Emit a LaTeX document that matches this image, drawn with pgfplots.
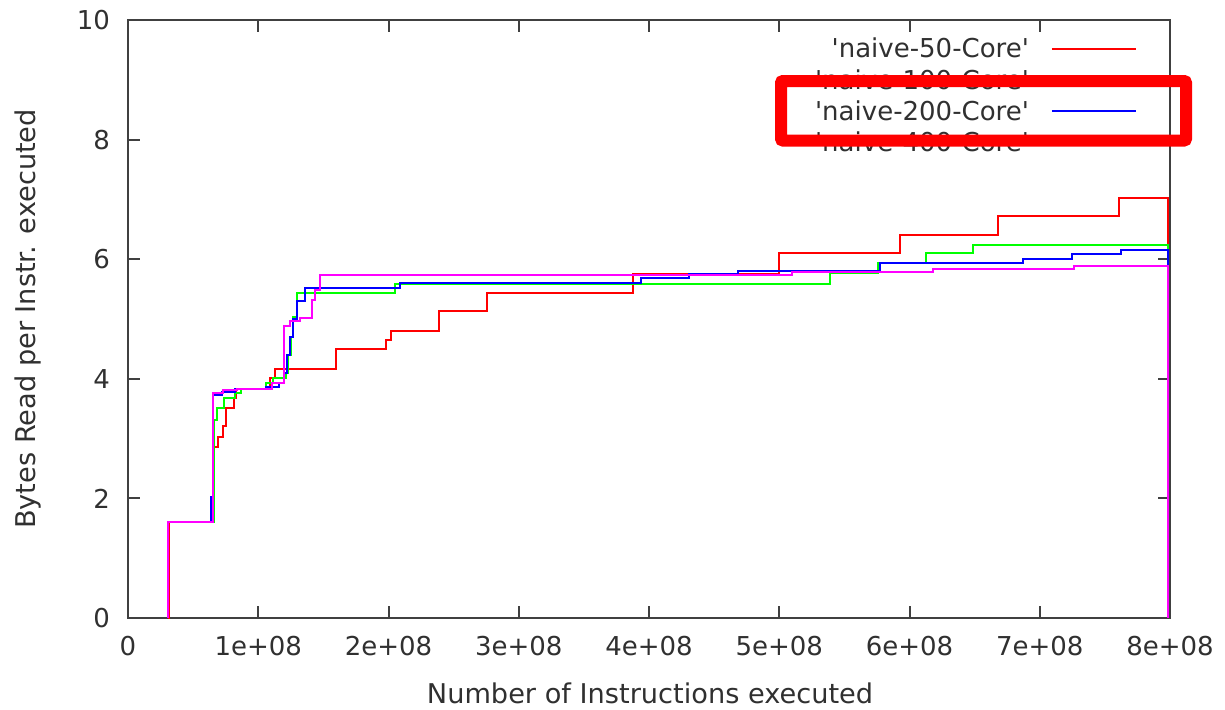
\documentclass[border=0pt]{standalone}
\usepackage{fontspec}
\setmainfont{DejaVu Sans}
\usepackage{pgfplots}
\pgfplotsset{compat=1.18}
\definecolor{axisgray}{HTML}{404040}
\definecolor{txt}{HTML}{303030}
\definecolor{gpred}{HTML}{FF0000}
\definecolor{gpgreen}{HTML}{00FF00}
\definecolor{gpblue}{HTML}{0000FF}
\definecolor{gpmag}{HTML}{FF00FF}
\begin{document}
\fontsize{13pt}{15pt}\selectfont
\begin{tikzpicture}[font=\fontsize{13pt}{15pt}\selectfont]
\begin{axis}[
  at={(0,0)}, anchor=south west,
  scale only axis, width=521pt, height=299pt,
  xmin=0, xmax=8e8, ymin=0, ymax=10,
  xtick={0,1e8,2e8,3e8,4e8,5e8,6e8,7e8,8e8},
  xticklabels={0,1e+08,2e+08,3e+08,4e+08,5e+08,6e+08,7e+08,8e+08},
  scaled x ticks=false,
  ytick={0,2,4,6,8,10}, yticklabels={0,2,4,6,8,10},
  tick align=inside, major tick length=6pt,
  axis line style={axisgray, line width=1pt},
  every tick/.style={axisgray, line width=1pt},
  xticklabel shift=4.5pt, yticklabel shift=4.5pt,
  tick label style={text=txt, font=\fontsize{13pt}{15pt}\selectfont},
  xlabel={Number of Instructions executed},
  ylabel={Bytes Read per Instr. executed},
  every axis x label/.style={at={(axis description cs:0.501,-0.1254)},anchor=center,text=txt,font=\fontsize{13.6pt}{16pt}\selectfont},
  every axis y label/.style={at={(axis description cs:-0.096,0.5)},rotate=90,anchor=center,text=txt,font=\fontsize{13.6pt}{16pt}\selectfont},
  legend plot pos=right,
  legend cell align=right,
  legend image code/.code={\draw[#1] (0pt,0pt) -- (42pt,0pt);},
  legend style={at={(0.9683,0.970)}, anchor=north east, draw=none, fill=none,
    inner sep=0pt, outer sep=0pt, row sep=4.6pt, column sep=11pt,
    nodes={inner sep=0pt, text height=10pt, text depth=1pt, text=txt}},
  every axis plot/.append style={line width=1pt, const plot},
]
\addplot[gpred] coordinates {
(3.1e7,0) (3.12e7,0.78) (3.15e7,1.6) (6.5e7,2.6) (6.6e7,2.86) (6.9e7,3.03)
(7.3e7,3.21) (7.5e7,3.51) (8.1e7,3.68) (8.3e7,3.83) (1.09e8,4.02) (1.13e8,4.16)
(1.6e8,4.5) (1.98e8,4.65) (2.02e8,4.8) (2.39e8,5.13) (2.76e8,5.43) (3.88e8,5.76)
(5.0e8,6.1) (5.93e8,6.4) (6.68e8,6.73) (7.61e8,7.03) (7.985e8,0)
};
\addlegendentry{\textquotesingle naive-50-Core\textquotesingle}
\addplot[gpgreen] coordinates {
(3.1e7,0) (3.1e7,1.6) (6.6e7,3.31) (6.8e7,3.51) (7.4e7,3.68) (8.2e7,3.76)
(8.7e7,3.83) (1.06e8,3.93) (1.11e8,4.02) (1.21e8,4.1) (1.23e8,4.4) (1.25e8,4.7)
(1.27e8,5.04) (1.295e8,5.43) (2.05e8,5.58) (5.39e8,5.77) (5.76e8,5.93)
(6.13e8,6.1) (6.49e8,6.23) (7.985e8,0)
};
\addlegendentry{\textquotesingle naive-100-Core\textquotesingle}
\addplot[gpblue] coordinates {
(3.1e7,0) (3.1e7,1.6) (6.35e7,2.02) (6.5e7,3.73) (7.2e7,3.78) (8.2e7,3.83)
(1.06e8,3.87) (1.16e8,3.93) (1.2e8,4.1) (1.22e8,4.4) (1.24e8,4.7) (1.27e8,5.0)
(1.3e8,5.3) (1.36e8,5.52) (2.09e8,5.6) (3.94e8,5.69) (4.31e8,5.76) (4.68e8,5.81)
(5.77e8,5.93) (6.87e8,6.0) (7.25e8,6.09) (7.62e8,6.15) (7.985e8,0)
};
\addlegendentry{\textquotesingle naive-200-Core\textquotesingle}
\addplot[gpmag] coordinates {
(3.1e7,0) (3.1e7,1.6) (6.5e7,3.76) (7.3e7,3.81) (8.4e7,3.83) (1.105e8,3.93)
(1.2e8,4.88) (1.245e8,4.97) (1.32e8,5.01) (1.41e8,5.32) (1.435e8,5.48)
(1.474e8,5.74) (5.1e8,5.79) (6.18e8,5.83) (7.26e8,5.89) (7.985e8,0)
};
\addlegendentry{\textquotesingle naive-400-Core\textquotesingle}
\end{axis}
\draw[gpred, line width=6pt, rounded corners=1pt] (326.5pt,238.75pt) rectangle (529pt,268.5pt);
\pgfresetboundingbox
\path (-64pt,-45.5pt) rectangle (548.5pt,309pt);
\end{tikzpicture}
\end{document}
